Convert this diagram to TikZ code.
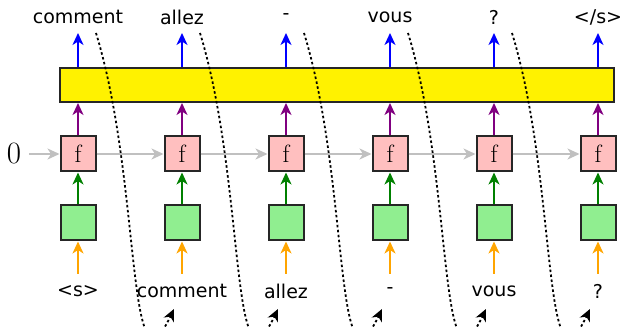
\documentclass[tikz,border=0pt]{standalone}
\usepackage{fontspec}
\newfontfamily\wordfont{DejaVu Sans}
\usetikzlibrary{arrows.meta,calc}
\begin{document}
\begin{tikzpicture}[x=1pt,y=-1pt,
  tip/.style={-{Stealth[length=12pt,width=11pt,inset=3.5pt]}},
  conn/.style={tip,line width=1.8pt},
  fbox/.style={draw=black!85,line width=2pt,fill=pink,minimum size=35pt,inner sep=0pt,font=\fontsize{25}{25}\selectfont},
  ebox/.style={draw=black!85,line width=2pt,fill=lightgreenc,minimum size=35pt,inner sep=0pt},
  word/.style={font=\wordfont\fontsize{19}{19}\selectfont,inner sep=0pt},
  skip/.style={line width=1.8pt,dash pattern=on 2.5pt off 2.5pt,-{Stealth[length=12pt,width=11pt,inset=3.5pt]}}
]
\definecolor{lightgreenc}{RGB}{144,238,144}
\definecolor{purplec}{RGB}{128,0,128}
\definecolor{greenc}{RGB}{0,128,0}
\definecolor{orangec}{RGB}{255,165,0}
\definecolor{grayc}{RGB}{192,192,192}
\useasboundingbox (0,0) rectangle (622,328);
\clip (0,0) rectangle (622,328);

% shared output layer
\node[draw=black!85,line width=2pt,fill=yellow,minimum width=554pt,minimum height=34pt,inner sep=0pt] (bar) at (337,85) {};

% initial state
\node[font=\fontsize{31}{31}\selectfont,inner sep=0pt] (zero) at (14,154) {0};

\foreach \i/\outw/\inw in {0/comment/{<s>},1/allez/comment,2/-/allez,3/vous/-,4/?/vous,5/{</s>}/?}{
  \pgfmathsetmacro{\cx}{78+104*\i}
  \node[fbox] (f\i) at (\cx,154) {f};
  \node[ebox] (e\i) at (\cx,223) {};
  \node[word] (out\i) at (\cx,17) {\outw};
  \node[word] (in\i) at (\cx,291) {\inw};
  \coordinate (otop\i) at (\cx,33);
  \coordinate (ibot\i) at (\cx,274);
  \draw[conn,blue] (bar.north -| f\i) -- (otop\i);
  \draw[conn,purplec] (f\i.north) -- (bar.south -| f\i);
  \draw[conn,greenc] (e\i.north) -- (f\i.south);
  \draw[conn,orangec] (ibot\i) -- (e\i.south);
}

% recurrent connections
\coordinate (zs) at (29,154);
\draw[conn,grayc] (zs) -- (f0.west);
\foreach \i [evaluate=\i as \j using int(\i+1)] in {0,...,4}{
  \draw[conn,grayc] (f\i.east) -- (f\j.west);
}

% each prediction is fed back as the next input
\foreach \i [evaluate=\i as \j using int(\i+1)] in {0,...,4}{
  \pgfmathsetmacro{\sx}{78+104*\i+18}
  \pgfmathsetmacro{\ex}{78+104*\j-8}
  \coordinate (cs\i) at (\sx,33);
  \coordinate (ce\i) at (\ex,309);
  \draw[skip] (cs\i) .. controls ($(cs\i)+(46,150)$) and ($(ce\i)+(-48,100)$) .. (ce\i);
}
\end{tikzpicture}
\end{document}
